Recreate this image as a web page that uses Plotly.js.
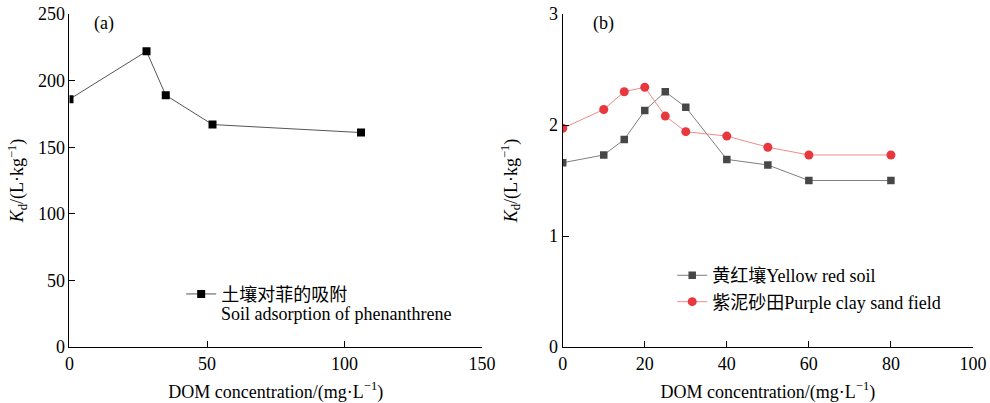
<!DOCTYPE html>
<html><head><meta charset="utf-8">
<script src="https://cdn.plot.ly/plotly-3.0.1.min.js"></script>
<style>body{margin:0;padding:0;background:#fff}#chart{width:990px;height:403px}</style>
</head><body><div id="chart"></div>
<script>
// Panel (a)
const domA = [0, 28, 35, 52, 106];
const kdA = [186, 222, 189, 167, 161];
// Panel (b)
const domB = [0, 10, 15, 20, 25, 30, 40, 50, 60, 80];
const kdYellow = [1.66, 1.73, 1.87, 2.13, 2.30, 2.16, 1.69, 1.64, 1.50, 1.50];
const kdPurple = [1.97, 2.14, 2.30, 2.34, 2.08, 1.94, 1.90, 1.80, 1.73, 1.73];

const nameA = '土壤对菲的吸附';
const nameA2 = 'Soil adsorption of phenanthrene';
const nameYellow = '黄红壤Yellow red soil';
const namePurple = '紫泥砂田Purple clay sand field';

const FONT = '"Liberation Serif", "Times New Roman", "Noto Sans CJK SC", serif';

const traces = [
  {x: domA, y: kdA, name: nameA, type: 'scatter', mode: 'lines+markers',
   xaxis: 'x', yaxis: 'y', legend: 'legend',
   line: {color: '#555555', width: 1},
   marker: {symbol: 'square', size: 8, color: '#000000'}},
  {x: domB, y: kdYellow, name: nameYellow, type: 'scatter', mode: 'lines+markers',
   xaxis: 'x2', yaxis: 'y2', legend: 'legend2',
   line: {color: '#7f7f7f', width: 1},
   marker: {symbol: 'square', size: 7.5, color: '#474747'}},
  {x: domB, y: kdPurple, name: namePurple, type: 'scatter', mode: 'lines+markers',
   xaxis: 'x2', yaxis: 'y2', legend: 'legend2',
   line: {color: '#f08a8a', width: 1},
   marker: {symbol: 'circle', size: 9, color: '#e8383d'}}
];

const axisCommon = {
  showline: true, linecolor: '#000', linewidth: 1, mirror: false,
  ticks: 'inside', ticklen: 6, tickcolor: '#000', tickwidth: 1,
  showgrid: false, zeroline: false,
  tickfont: {family: FONT, size: 18, color: '#000'}
};
const xTitle = {text: 'DOM concentration/(mg·L<sup>−1</sup>)', font: {family: FONT, size: 18, color: '#000'}};
const yTitle = {text: '<i>K</i><sub>d</sub>/(L·kg<sup>−1</sup>)', font: {family: FONT, size: 18, color: '#000'}};

const layout = {
  width: 990, height: 403,
  margin: {l: 0, r: 0, t: 14, b: 56},
  paper_bgcolor: '#fff', plot_bgcolor: '#fff',
  font: {family: FONT, size: 18, color: '#000'},
  xaxis: Object.assign({}, axisCommon, {domain: [0.0702, 0.4869], range: [0, 150], dtick: 50, anchor: 'y', title: xTitle}),
  yaxis: Object.assign({}, axisCommon, {domain: [0, 1], range: [0, 250], dtick: 50, anchor: 'x', title: yTitle}),
  xaxis2: Object.assign({}, axisCommon, {domain: [0.5684, 0.9828], range: [0, 100], dtick: 20, anchor: 'y2', title: xTitle}),
  yaxis2: Object.assign({}, axisCommon, {domain: [0, 1], range: [0, 3], dtick: 1, anchor: 'x2', title: yTitle}),
  legend: {x: 0.183, y: 0.214, xanchor: 'left', yanchor: 'top', bgcolor: 'rgba(0,0,0,0)',
           font: {family: FONT, size: 18, color: '#000'}, tracegroupgap: 0},
  legend2: {x: 0.679, y: 0.27, xanchor: 'left', yanchor: 'top', bgcolor: 'rgba(0,0,0,0)',
            font: {family: FONT, size: 18, color: '#000'}, tracegroupgap: 0},
  showlegend: true,
  annotations: [
    {text: '(a)', xref: 'paper', yref: 'paper', x: 0.093, y: 0.97, xanchor: 'left', yanchor: 'middle', showarrow: false,
     font: {family: FONT, size: 18, color: '#000'}},
    {text: '(b)', xref: 'paper', yref: 'paper', x: 0.597, y: 0.97, xanchor: 'left', yanchor: 'middle', showarrow: false,
     font: {family: FONT, size: 18, color: '#000'}},
    {text: nameA2, xref: 'paper', yref: 'paper', x: 0.2215, y: 0.100, xanchor: 'left', yanchor: 'middle', showarrow: false,
     font: {family: FONT, size: 18, color: '#000'}}
  ]
};

Plotly.newPlot('chart', traces, layout, {displayModeBar: false, staticPlot: true});
</script>
</body></html>
